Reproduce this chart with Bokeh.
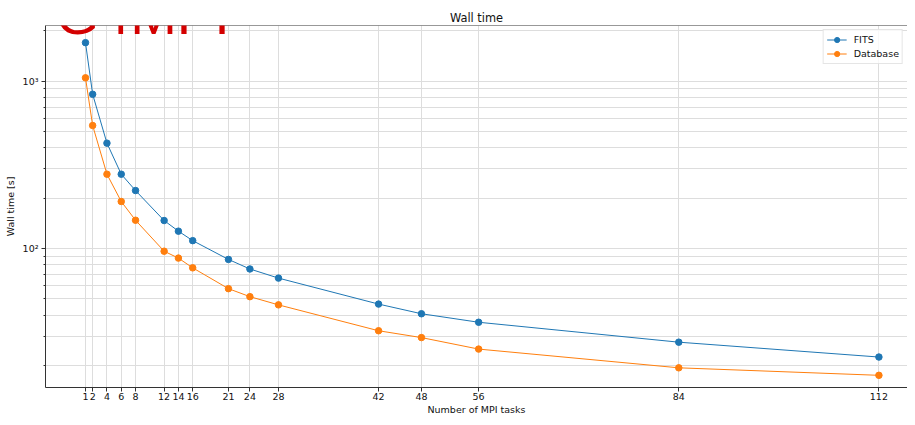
from bokeh.plotting import figure
from bokeh.models import Range1d, FixedTicker, CustomJSTickFormatter, Label, Span
from bokeh.embed import file_html
from bokeh.resources import INLINE

# ---- data ----
tasks = [1, 2, 4, 6, 8, 12, 14, 16, 21, 24, 28, 42, 48, 56, 84, 112]
fits = [1697, 834, 426, 278, 222, 147, 127, 111.5, 86.1, 75.5, 66.6, 46.6, 40.8, 36.3, 27.6, 22.5]
database = [1046, 543, 278, 191, 147.6, 96.4, 87.7, 76.7, 57.6, 51.6, 46.1, 32.3, 29.4, 25.1, 19.4, 17.5]
x_ticks = tasks
y_major = [100, 1000]
y_minor = [20, 30, 40, 50, 60, 70, 80, 90, 200, 300, 400, 500, 600, 700, 800, 900, 2000]

FONT = "DejaVu Sans"
BLUE = "#1f77b4"
ORANGE = "#ff7f0e"
Y_TOP = 2147.7

p = figure(width=907, height=417,
           x_range=Range1d(-4.596, 116.0), y_range=Range1d(14.8, Y_TOP),
           y_axis_type="log", title="Wall time",
           output_backend="svg", toolbar_location=None,
           min_border_left=45, min_border_right=0, min_border_top=25, min_border_bottom=29)
p.background_fill_color = "white"
p.border_fill_color = "white"
p.outline_line_color = None

p.title.align = "center"
p.title.offset = 5
p.title.standoff = 2
p.title.text_font = FONT
p.title.text_font_size = "11.4px"
p.title.text_font_style = "normal"
p.title.text_color = "#111111"

p.line(tasks, fits, color=BLUE, line_width=1, legend_label="FITS")
p.scatter(tasks, fits, size=6.5, color=BLUE, legend_label="FITS")
p.line(tasks, database, color=ORANGE, line_width=1, legend_label="Database")
p.scatter(tasks, database, size=6.5, color=ORANGE, legend_label="Database")

# axes
xa = p.xaxis[0]
ya = p.yaxis[0]
xa.ticker = FixedTicker(ticks=x_ticks)
ya.ticker = FixedTicker(ticks=y_major, minor_ticks=y_minor)
ya.formatter = CustomJSTickFormatter(code="""
if (tick == 1000) { return "10\u00b3"; }
if (tick == 100) { return "10\u00b2"; }
return "";
""")
for ax in (xa, ya):
    ax.major_label_text_font = FONT
    ax.major_label_text_font_size = "9.5px"
    ax.major_label_text_color = "#111111"
    ax.axis_label_text_font = FONT
    ax.axis_label_text_font_size = "9.5px"
    ax.axis_label_text_font_style = "normal"
    ax.axis_label_text_color = "#111111"
    ax.axis_line_color = "#333333"
    ax.major_tick_line_color = "#333333"
    ax.minor_tick_line_color = "#333333"
    ax.major_tick_in = 0
    ax.major_tick_out = 4
    ax.minor_tick_in = 0
    ax.minor_tick_out = 2
xa.axis_label = "Number of MPI tasks"
ya.axis_label = "Wall time [s]"
xa.major_label_standoff = 1
xa.axis_label_standoff = 1
ya.major_label_standoff = 3
ya.axis_label_standoff = 4

# top spine
p.add_layout(Span(location=Y_TOP, dimension="width", line_color="#333333", line_width=1))

# grid
p.xgrid.grid_line_color = "#dddddd"
p.ygrid.grid_line_color = "#dddddd"
p.ygrid.minor_grid_line_color = "#dddddd"

# legend
lg = p.legend[0]
lg.location = "top_right"
lg.margin = 4
lg.padding = 3
lg.spacing = 1
lg.label_height = 13
lg.glyph_height = 13
lg.glyph_width = 20
lg.label_standoff = 7
lg.label_text_font = FONT
lg.label_text_font_size = "9.5px"
lg.label_text_color = "#111111"
lg.border_line_color = "#cccccc"
lg.background_fill_alpha = 0.8

# overlapping red caption, cut at the top edge
p.add_layout(Label(x=-3.198, y=2500, text="G4MPI", text_align="left", text_baseline="alphabetic",
                   text_font="Liberation Sans", text_font_size="56px", text_color="#d40000"))

open("out.html", "w", encoding="utf-8").write(file_html(p, INLINE))
